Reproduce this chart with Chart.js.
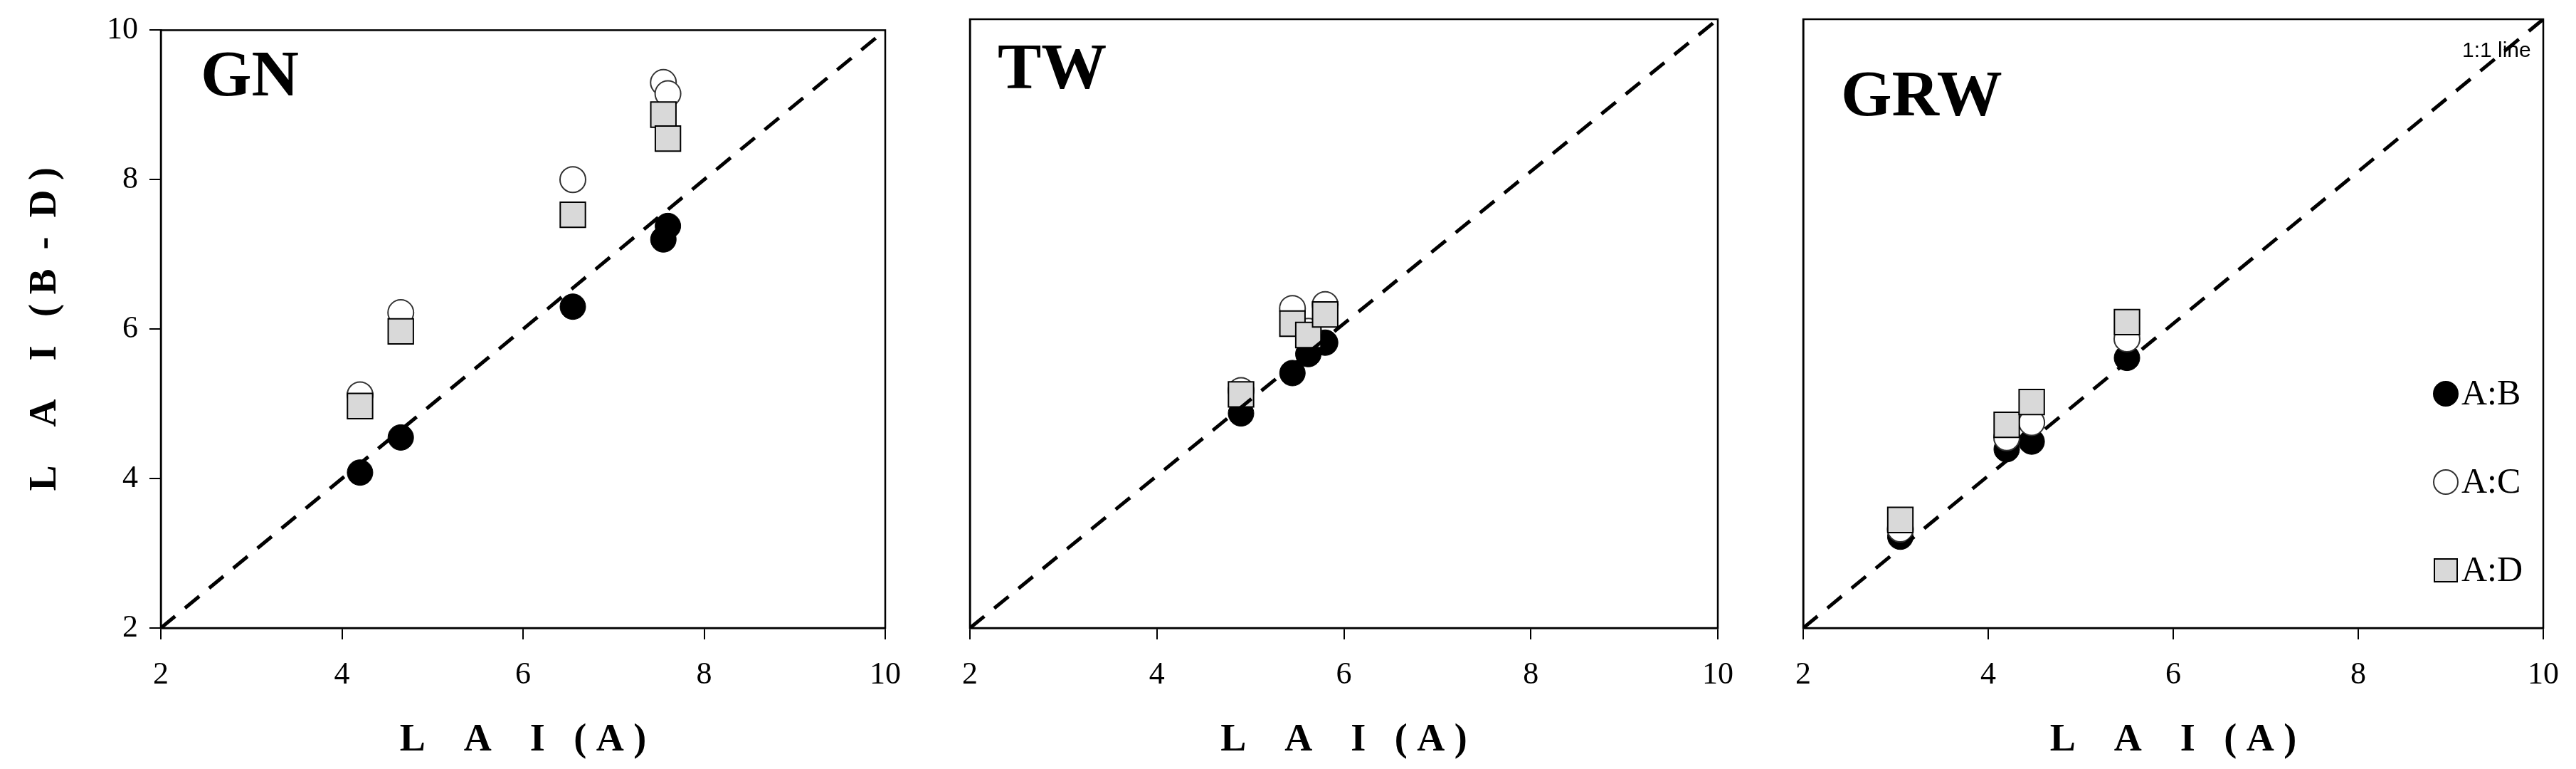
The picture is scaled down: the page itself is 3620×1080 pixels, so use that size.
<!DOCTYPE html>
<html><head><meta charset="utf-8">
<script src="https://cdn.jsdelivr.net/npm/chart.js@4.4.0/dist/chart.umd.min.js"></script>
<style>body{margin:0;background:#fff;width:3620px;height:1080px;position:relative;overflow:hidden}canvas{position:absolute;top:0}</style>
</head><body>
<canvas id="c1" style="left:0" width="1290" height="1080"></canvas>
<canvas id="c2" style="left:1290px" width="1170" height="1080"></canvas>
<canvas id="c3" style="left:2460px" width="1160" height="1080"></canvas>
<script>
const panels = ["GN", "TW", "GRW"];
const seriesNames = ["A:B", "A:C", "A:D"];
const tickValues = [2, 4, 6, 8, 10];
const lineRange = [2, 10];
// LAI (A) values per panel
const gnX  = [4.2, 4.65, 6.55, 7.55, 7.6];
const gnB  = [4.08, 4.55, 6.3, 7.2, 7.38];
const gnC  = [5.12, 6.22, 8.0, 9.3, 9.15];
const gnD  = [4.97, 5.97, 7.53, 8.87, 8.55];
const twX  = [4.9, 5.45, 5.62, 5.8];
const twB  = [4.82, 5.35, 5.6, 5.75];
const twC  = [5.12, 6.2, 5.9, 6.25];
const twD  = [5.07, 6.0, 5.85, 6.12];
const grwX = [3.05, 4.2, 4.47, 5.5];
const grwB = [3.2, 4.35, 4.45, 5.55];
const grwC = [3.3, 4.5, 4.7, 5.8];
const grwD = [3.42, 4.67, 4.97, 6.02];

const serif = "'Liberation Serif', 'DejaVu Serif', serif";
const pts = (xs, ys) => xs.map((x, i) => ({x, y: ys[i]}));

function makeDatasets(xs, b, c, d) {
  return [
    {label: seriesNames[2], data: pts(xs, d), pointStyle: 'rect', pointRadius: 25, backgroundColor: '#d9d9d9', borderColor: '#000', borderWidth: 2, order: 1, showLine: false},
    {label: seriesNames[1], data: pts(xs, c), pointStyle: 'circle', pointRadius: 18, backgroundColor: '#fff', borderColor: '#333', borderWidth: 2, order: 2, showLine: false},
    {label: seriesNames[0], data: pts(xs, b), pointStyle: 'circle', pointRadius: 18, backgroundColor: '#000', borderColor: '#000', borderWidth: 1, order: 3, showLine: false},
    {label: '1:1 line', type: 'line', data: [{x: lineRange[0], y: lineRange[0]}, {x: lineRange[1], y: lineRange[1]}], borderColor: '#000', borderWidth: 5, borderDash: [26, 18], pointRadius: 0, order: 0, fill: false}
  ];
}

const deco = {
  id: 'deco',
  afterDraw(chart, args, o) {
    const {ctx, chartArea: a} = chart;
    ctx.save();
    ctx.strokeStyle = '#000'; ctx.lineWidth = 2.5;
    ctx.strokeRect(a.left, a.top, a.right - a.left, a.bottom - a.top);
    ctx.fillStyle = '#000';
    ctx.font = "bold 92px " + serif;
    ctx.textBaseline = 'middle'; ctx.textAlign = 'left';
    ctx.fillText(o.title, o.tx, o.ty);
    if (o.oneToOne) {
      ctx.font = "30px 'Liberation Sans', sans-serif";
      ctx.fillText('1:1 line', o.oneToOne[0], o.oneToOne[1]);
    }
    if (o.legend) {
      const [lx, ly, gap] = o.legend;
      const order = [2, 1, 0];
      order.forEach((di, k) => {
        const ds = chart.data.datasets[di];
        const y = ly + k * gap;
        ctx.fillStyle = ds.backgroundColor; ctx.strokeStyle = ds.borderColor; ctx.lineWidth = 2;
        if (ds.pointStyle === 'rect') { ctx.fillRect(lx - 16, y - 16, 32, 32); ctx.strokeRect(lx - 16, y - 16, 32, 32); }
        else { ctx.beginPath(); ctx.arc(lx, y, 17, 0, Math.PI * 2); ctx.fill(); ctx.stroke(); }
        ctx.fillStyle = '#000';
        ctx.font = "50px " + serif;
        ctx.fillText(ds.label, lx + 22, y + 2);
      });
    }
    ctx.restore();
  }
};

function makeChart(id, ds, cfg) {
  new Chart(document.getElementById(id), {
    type: 'scatter',
    data: {datasets: ds},
    plugins: [deco],
    options: {
      responsive: false, animation: false,
      layout: {padding: {left: 0, right: cfg.right, top: cfg.top, bottom: 0}},
      plugins: {legend: {display: false}, tooltip: {enabled: false}, deco: cfg.deco},
      scales: {
        x: {
          min: 2, max: 10,
          afterBuildTicks: s => { s.ticks = tickValues.map(v => ({value: v})); },
          afterFit: s => { s.height = 198; },
          grid: {drawOnChartArea: false, drawTicks: true, tickLength: 16, color: '#000', lineWidth: 2},
          border: {color: '#000', width: 2.5},
          ticks: {font: {family: serif, size: 44}, color: '#000', padding: 24, maxRotation: 0},
          title: {display: true, text: 'L    A    I   ( A )', font: {family: serif, size: 54, weight: 'bold'}, color: '#000', padding: {top: 0, bottom: 8}}
        },
        y: {
          min: 2, max: 10,
          afterBuildTicks: s => { s.ticks = tickValues.map(v => ({value: v})); },
          afterFit: s => { s.width = cfg.yw; },
          grid: {drawOnChartArea: false, drawTicks: cfg.yLabels, tickLength: 16, color: '#000', lineWidth: 2},
          border: {color: '#000', width: 2.5},
          ticks: {display: cfg.yLabels, font: {family: serif, size: 44}, color: '#000', padding: 16},
          title: {display: cfg.yLabels, text: 'L    A    I   ( B  -  D )', font: {family: serif, size: 54, weight: 'bold'}, color: '#000', padding: {top: 32, bottom: 0}}
        }
      }
    }
  });
}

makeChart('c1', makeDatasets(gnX, gnB, gnC, gnD), {right: 36, top: 30, yw: 226, yLabels: true, deco: {title: panels[0], tx: 282, ty: 110}});
makeChart('c2', makeDatasets(twX, twB, twC, twD), {right: 39, top: 14, yw: 73, yLabels: false, deco: {title: panels[1], tx: 112, ty: 100}});
makeChart('c3', makeDatasets(grwX, grwB, grwC, grwD), {right: 28, top: 18, yw: 74, yLabels: false, deco: {title: panels[2], tx: 127, ty: 138, oneToOne: [1000, 72], legend: [977, 553, 124]}});
</script>
</body></html>
